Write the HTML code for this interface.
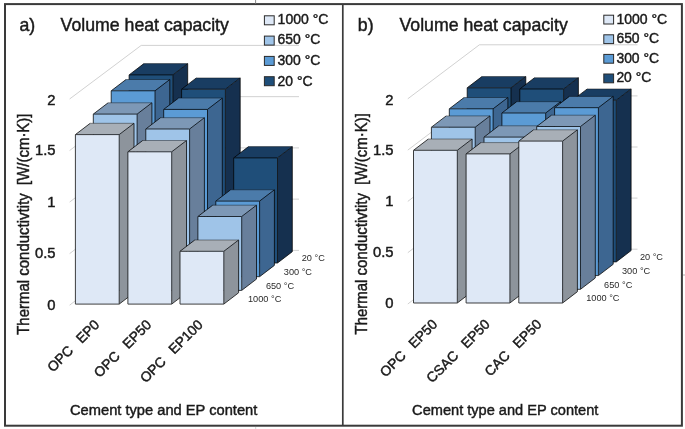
<!DOCTYPE html>
<html><head><meta charset="utf-8"><style>
html,body{margin:0;padding:0;background:#fff;}
svg{display:block;filter:blur(0.45px);}
text{font-family:"Liberation Sans",sans-serif;}
</style></head><body>
<svg width="685" height="429" viewBox="0 0 685 429">
<rect x="5" y="4.1" width="676.9" height="421.6" fill="none" stroke="#3a3a3a" stroke-width="2"/>
<line x1="342.8" y1="4" x2="342.8" y2="426" stroke="#3a3a3a" stroke-width="1.7"/>
<line x1="255.6" y1="0" x2="255.6" y2="3.5" stroke="#8a8a8a" stroke-width="1"/>
<line x1="255.7" y1="427" x2="255.7" y2="429" stroke="#d4d4d4" stroke-width="1"/>
<line x1="683" y1="275" x2="685" y2="275" stroke="#b0b0b0" stroke-width="1"/>
<polyline points="69.60,305.20 141.20,250.40 299.00,250.40" fill="none" stroke="#cccccc" stroke-width="0.9"/>
<polyline points="69.60,253.65 141.20,199.15 299.00,199.15" fill="none" stroke="#cccccc" stroke-width="0.9"/>
<polyline points="69.60,202.10 141.20,147.90 299.00,147.90" fill="none" stroke="#cccccc" stroke-width="0.9"/>
<polyline points="69.60,150.55 141.20,96.65 299.00,96.65" fill="none" stroke="#cccccc" stroke-width="0.9"/>
<polyline points="69.60,99.00 141.20,45.40 299.00,45.40" fill="none" stroke="#cccccc" stroke-width="0.9"/>
<polyline points="407.80,304.00 479.40,249.20 637.50,249.20" fill="none" stroke="#cccccc" stroke-width="0.9"/>
<polyline points="407.80,252.70 479.40,198.10 637.50,198.10" fill="none" stroke="#cccccc" stroke-width="0.9"/>
<polyline points="407.80,201.40 479.40,147.00 637.50,147.00" fill="none" stroke="#cccccc" stroke-width="0.9"/>
<polyline points="407.80,150.10 479.40,95.90 637.50,95.90" fill="none" stroke="#cccccc" stroke-width="0.9"/>
<polyline points="407.80,98.80 479.40,44.80 637.50,44.80" fill="none" stroke="#cccccc" stroke-width="0.9"/>
<polygon points="172.90,74.90 187.70,63.60 187.70,251.70 172.90,263.00" fill="#15304f"/>
<polygon points="129.10,74.90 143.90,63.60 187.70,63.60 172.90,74.90" fill="#193d62"/>
<polygon points="129.10,74.90 172.90,74.90 172.90,263.00 129.10,263.00" fill="#1f4e79"/>
<g opacity="0.75" fill="none" stroke="#000" stroke-width="1.0">
<polyline points="187.70,63.60 187.70,251.70 172.90,263.00 129.10,263.00 129.10,74.90 143.90,63.60" stroke-linejoin="round"/>
<polyline points="129.10,74.90 172.90,74.90 187.70,63.60"/>
<line x1="172.90" y1="74.90" x2="172.90" y2="263.00"/>
</g>
<line x1="143.90" y1="63.60" x2="187.70" y2="63.60" stroke="#000" stroke-opacity="0.4" stroke-width="1.0"/>
<polygon points="225.40,89.20 240.20,77.90 240.20,251.70 225.40,263.00" fill="#15304f"/>
<polygon points="181.60,89.20 196.40,77.90 240.20,77.90 225.40,89.20" fill="#193d62"/>
<polygon points="181.60,89.20 225.40,89.20 225.40,263.00 181.60,263.00" fill="#1f4e79"/>
<g opacity="0.75" fill="none" stroke="#000" stroke-width="1.0">
<polyline points="240.20,77.90 240.20,251.70 225.40,263.00 181.60,263.00 181.60,89.20 196.40,77.90" stroke-linejoin="round"/>
<polyline points="181.60,89.20 225.40,89.20 240.20,77.90"/>
<line x1="225.40" y1="89.20" x2="225.40" y2="263.00"/>
</g>
<line x1="196.40" y1="77.90" x2="240.20" y2="77.90" stroke="#000" stroke-opacity="0.4" stroke-width="1.0"/>
<polygon points="277.50,157.90 292.30,146.60 292.30,251.70 277.50,263.00" fill="#15304f"/>
<polygon points="233.70,157.90 248.50,146.60 292.30,146.60 277.50,157.90" fill="#193d62"/>
<polygon points="233.70,157.90 277.50,157.90 277.50,263.00 233.70,263.00" fill="#1f4e79"/>
<g opacity="0.75" fill="none" stroke="#000" stroke-width="1.0">
<polyline points="292.30,146.60 292.30,251.70 277.50,263.00 233.70,263.00 233.70,157.90 248.50,146.60" stroke-linejoin="round"/>
<polyline points="233.70,157.90 277.50,157.90 292.30,146.60"/>
<line x1="277.50" y1="157.90" x2="277.50" y2="263.00"/>
</g>
<line x1="248.50" y1="146.60" x2="292.30" y2="146.60" stroke="#000" stroke-opacity="0.4" stroke-width="1.0"/>
<polygon points="155.00,90.80 169.80,79.50 169.80,265.40 155.00,276.70" fill="#3d6691"/>
<polygon points="111.20,90.80 126.00,79.50 169.80,79.50 155.00,90.80" fill="#4b7baa"/>
<polygon points="111.20,90.80 155.00,90.80 155.00,276.70 111.20,276.70" fill="#5b9bd5"/>
<g opacity="0.75" fill="none" stroke="#000" stroke-width="1.0">
<polyline points="169.80,79.50 169.80,265.40 155.00,276.70 111.20,276.70 111.20,90.80 126.00,79.50" stroke-linejoin="round"/>
<polyline points="111.20,90.80 155.00,90.80 169.80,79.50"/>
<line x1="155.00" y1="90.80" x2="155.00" y2="276.70"/>
</g>
<line x1="126.00" y1="79.50" x2="169.80" y2="79.50" stroke="#000" stroke-opacity="0.4" stroke-width="1.0"/>
<polygon points="207.50,109.40 222.30,98.10 222.30,265.40 207.50,276.70" fill="#3d6691"/>
<polygon points="163.70,109.40 178.50,98.10 222.30,98.10 207.50,109.40" fill="#4b7baa"/>
<polygon points="163.70,109.40 207.50,109.40 207.50,276.70 163.70,276.70" fill="#5b9bd5"/>
<g opacity="0.75" fill="none" stroke="#000" stroke-width="1.0">
<polyline points="222.30,98.10 222.30,265.40 207.50,276.70 163.70,276.70 163.70,109.40 178.50,98.10" stroke-linejoin="round"/>
<polyline points="163.70,109.40 207.50,109.40 222.30,98.10"/>
<line x1="207.50" y1="109.40" x2="207.50" y2="276.70"/>
</g>
<line x1="178.50" y1="98.10" x2="222.30" y2="98.10" stroke="#000" stroke-opacity="0.4" stroke-width="1.0"/>
<polygon points="259.60,201.10 274.40,189.80 274.40,265.40 259.60,276.70" fill="#3d6691"/>
<polygon points="215.80,201.10 230.60,189.80 274.40,189.80 259.60,201.10" fill="#4b7baa"/>
<polygon points="215.80,201.10 259.60,201.10 259.60,276.70 215.80,276.70" fill="#5b9bd5"/>
<g opacity="0.75" fill="none" stroke="#000" stroke-width="1.0">
<polyline points="274.40,189.80 274.40,265.40 259.60,276.70 215.80,276.70 215.80,201.10 230.60,189.80" stroke-linejoin="round"/>
<polyline points="215.80,201.10 259.60,201.10 274.40,189.80"/>
<line x1="259.60" y1="201.10" x2="259.60" y2="276.70"/>
</g>
<line x1="230.60" y1="189.80" x2="274.40" y2="189.80" stroke="#000" stroke-opacity="0.4" stroke-width="1.0"/>
<polygon points="137.10,114.10 151.90,102.80 151.90,279.10 137.10,290.40" fill="#687f9b"/>
<polygon points="93.30,114.10 108.10,102.80 151.90,102.80 137.10,114.10" fill="#7d98b6"/>
<polygon points="93.30,114.10 137.10,114.10 137.10,290.40 93.30,290.40" fill="#9fc4e8"/>
<g opacity="0.75" fill="none" stroke="#000" stroke-width="1.0">
<polyline points="151.90,102.80 151.90,279.10 137.10,290.40 93.30,290.40 93.30,114.10 108.10,102.80" stroke-linejoin="round"/>
<polyline points="93.30,114.10 137.10,114.10 151.90,102.80"/>
<line x1="137.10" y1="114.10" x2="137.10" y2="290.40"/>
</g>
<line x1="108.10" y1="102.80" x2="151.90" y2="102.80" stroke="#000" stroke-opacity="0.4" stroke-width="1.0"/>
<polygon points="189.60,129.00 204.40,117.70 204.40,279.10 189.60,290.40" fill="#687f9b"/>
<polygon points="145.80,129.00 160.60,117.70 204.40,117.70 189.60,129.00" fill="#7d98b6"/>
<polygon points="145.80,129.00 189.60,129.00 189.60,290.40 145.80,290.40" fill="#9fc4e8"/>
<g opacity="0.75" fill="none" stroke="#000" stroke-width="1.0">
<polyline points="204.40,117.70 204.40,279.10 189.60,290.40 145.80,290.40 145.80,129.00 160.60,117.70" stroke-linejoin="round"/>
<polyline points="145.80,129.00 189.60,129.00 204.40,117.70"/>
<line x1="189.60" y1="129.00" x2="189.60" y2="290.40"/>
</g>
<line x1="160.60" y1="117.70" x2="204.40" y2="117.70" stroke="#000" stroke-opacity="0.4" stroke-width="1.0"/>
<polygon points="241.70,216.50 256.50,205.20 256.50,279.10 241.70,290.40" fill="#687f9b"/>
<polygon points="197.90,216.50 212.70,205.20 256.50,205.20 241.70,216.50" fill="#7d98b6"/>
<polygon points="197.90,216.50 241.70,216.50 241.70,290.40 197.90,290.40" fill="#9fc4e8"/>
<g opacity="0.75" fill="none" stroke="#000" stroke-width="1.0">
<polyline points="256.50,205.20 256.50,279.10 241.70,290.40 197.90,290.40 197.90,216.50 212.70,205.20" stroke-linejoin="round"/>
<polyline points="197.90,216.50 241.70,216.50 256.50,205.20"/>
<line x1="241.70" y1="216.50" x2="241.70" y2="290.40"/>
</g>
<line x1="212.70" y1="205.20" x2="256.50" y2="205.20" stroke="#000" stroke-opacity="0.4" stroke-width="1.0"/>
<polygon points="119.20,134.60 134.00,123.30 134.00,292.80 119.20,304.10" fill="#8d949c"/>
<polygon points="75.40,134.60 90.20,123.30 134.00,123.30 119.20,134.60" fill="#a8afb7"/>
<polygon points="75.40,134.60 119.20,134.60 119.20,304.10 75.40,304.10" fill="#dee8f6"/>
<g opacity="0.75" fill="none" stroke="#000" stroke-width="1.0">
<polyline points="134.00,123.30 134.00,292.80 119.20,304.10 75.40,304.10 75.40,134.60 90.20,123.30" stroke-linejoin="round"/>
<polyline points="75.40,134.60 119.20,134.60 134.00,123.30"/>
<line x1="119.20" y1="134.60" x2="119.20" y2="304.10"/>
</g>
<line x1="90.20" y1="123.30" x2="134.00" y2="123.30" stroke="#000" stroke-opacity="0.4" stroke-width="1.0"/>
<polygon points="171.70,151.80 186.50,140.50 186.50,292.80 171.70,304.10" fill="#8d949c"/>
<polygon points="127.90,151.80 142.70,140.50 186.50,140.50 171.70,151.80" fill="#a8afb7"/>
<polygon points="127.90,151.80 171.70,151.80 171.70,304.10 127.90,304.10" fill="#dee8f6"/>
<g opacity="0.75" fill="none" stroke="#000" stroke-width="1.0">
<polyline points="186.50,140.50 186.50,292.80 171.70,304.10 127.90,304.10 127.90,151.80 142.70,140.50" stroke-linejoin="round"/>
<polyline points="127.90,151.80 171.70,151.80 186.50,140.50"/>
<line x1="171.70" y1="151.80" x2="171.70" y2="304.10"/>
</g>
<line x1="142.70" y1="140.50" x2="186.50" y2="140.50" stroke="#000" stroke-opacity="0.4" stroke-width="1.0"/>
<polygon points="223.80,251.30 238.60,240.00 238.60,292.80 223.80,304.10" fill="#8d949c"/>
<polygon points="180.00,251.30 194.80,240.00 238.60,240.00 223.80,251.30" fill="#a8afb7"/>
<polygon points="180.00,251.30 223.80,251.30 223.80,304.10 180.00,304.10" fill="#dee8f6"/>
<g opacity="0.75" fill="none" stroke="#000" stroke-width="1.0">
<polyline points="238.60,240.00 238.60,292.80 223.80,304.10 180.00,304.10 180.00,251.30 194.80,240.00" stroke-linejoin="round"/>
<polyline points="180.00,251.30 223.80,251.30 238.60,240.00"/>
<line x1="223.80" y1="251.30" x2="223.80" y2="304.10"/>
</g>
<line x1="194.80" y1="240.00" x2="238.60" y2="240.00" stroke="#000" stroke-opacity="0.4" stroke-width="1.0"/>
<polygon points="511.00,87.80 525.80,76.50 525.80,250.60 511.00,261.90" fill="#15304f"/>
<polygon points="467.20,87.80 482.00,76.50 525.80,76.50 511.00,87.80" fill="#193d62"/>
<polygon points="467.20,87.80 511.00,87.80 511.00,261.90 467.20,261.90" fill="#1f4e79"/>
<g opacity="0.75" fill="none" stroke="#000" stroke-width="1.0">
<polyline points="525.80,76.50 525.80,250.60 511.00,261.90 467.20,261.90 467.20,87.80 482.00,76.50" stroke-linejoin="round"/>
<polyline points="467.20,87.80 511.00,87.80 525.80,76.50"/>
<line x1="511.00" y1="87.80" x2="511.00" y2="261.90"/>
</g>
<line x1="482.00" y1="76.50" x2="525.80" y2="76.50" stroke="#000" stroke-opacity="0.4" stroke-width="1.0"/>
<polygon points="563.60,89.00 578.40,77.70 578.40,250.60 563.60,261.90" fill="#15304f"/>
<polygon points="519.80,89.00 534.60,77.70 578.40,77.70 563.60,89.00" fill="#193d62"/>
<polygon points="519.80,89.00 563.60,89.00 563.60,261.90 519.80,261.90" fill="#1f4e79"/>
<g opacity="0.75" fill="none" stroke="#000" stroke-width="1.0">
<polyline points="578.40,77.70 578.40,250.60 563.60,261.90 519.80,261.90 519.80,89.00 534.60,77.70" stroke-linejoin="round"/>
<polyline points="519.80,89.00 563.60,89.00 578.40,77.70"/>
<line x1="563.60" y1="89.00" x2="563.60" y2="261.90"/>
</g>
<line x1="534.60" y1="77.70" x2="578.40" y2="77.70" stroke="#000" stroke-opacity="0.4" stroke-width="1.0"/>
<polygon points="616.30,100.20 631.10,88.90 631.10,250.60 616.30,261.90" fill="#15304f"/>
<polygon points="572.50,100.20 587.30,88.90 631.10,88.90 616.30,100.20" fill="#193d62"/>
<polygon points="572.50,100.20 616.30,100.20 616.30,261.90 572.50,261.90" fill="#1f4e79"/>
<g opacity="0.75" fill="none" stroke="#000" stroke-width="1.0">
<polyline points="631.10,88.90 631.10,250.60 616.30,261.90 572.50,261.90 572.50,100.20 587.30,88.90" stroke-linejoin="round"/>
<polyline points="572.50,100.20 616.30,100.20 631.10,88.90"/>
<line x1="616.30" y1="100.20" x2="616.30" y2="261.90"/>
</g>
<line x1="587.30" y1="88.90" x2="631.10" y2="88.90" stroke="#000" stroke-opacity="0.4" stroke-width="1.0"/>
<polygon points="493.10,108.80 507.90,97.50 507.90,264.30 493.10,275.60" fill="#3d6691"/>
<polygon points="449.30,108.80 464.10,97.50 507.90,97.50 493.10,108.80" fill="#4b7baa"/>
<polygon points="449.30,108.80 493.10,108.80 493.10,275.60 449.30,275.60" fill="#5b9bd5"/>
<g opacity="0.75" fill="none" stroke="#000" stroke-width="1.0">
<polyline points="507.90,97.50 507.90,264.30 493.10,275.60 449.30,275.60 449.30,108.80 464.10,97.50" stroke-linejoin="round"/>
<polyline points="449.30,108.80 493.10,108.80 507.90,97.50"/>
<line x1="493.10" y1="108.80" x2="493.10" y2="275.60"/>
</g>
<line x1="464.10" y1="97.50" x2="507.90" y2="97.50" stroke="#000" stroke-opacity="0.4" stroke-width="1.0"/>
<polygon points="545.70,113.00 560.50,101.70 560.50,264.30 545.70,275.60" fill="#3d6691"/>
<polygon points="501.90,113.00 516.70,101.70 560.50,101.70 545.70,113.00" fill="#4b7baa"/>
<polygon points="501.90,113.00 545.70,113.00 545.70,275.60 501.90,275.60" fill="#5b9bd5"/>
<g opacity="0.75" fill="none" stroke="#000" stroke-width="1.0">
<polyline points="560.50,101.70 560.50,264.30 545.70,275.60 501.90,275.60 501.90,113.00 516.70,101.70" stroke-linejoin="round"/>
<polyline points="501.90,113.00 545.70,113.00 560.50,101.70"/>
<line x1="545.70" y1="113.00" x2="545.70" y2="275.60"/>
</g>
<line x1="516.70" y1="101.70" x2="560.50" y2="101.70" stroke="#000" stroke-opacity="0.4" stroke-width="1.0"/>
<polygon points="598.40,107.70 613.20,96.40 613.20,264.30 598.40,275.60" fill="#3d6691"/>
<polygon points="554.60,107.70 569.40,96.40 613.20,96.40 598.40,107.70" fill="#4b7baa"/>
<polygon points="554.60,107.70 598.40,107.70 598.40,275.60 554.60,275.60" fill="#5b9bd5"/>
<g opacity="0.75" fill="none" stroke="#000" stroke-width="1.0">
<polyline points="613.20,96.40 613.20,264.30 598.40,275.60 554.60,275.60 554.60,107.70 569.40,96.40" stroke-linejoin="round"/>
<polyline points="554.60,107.70 598.40,107.70 613.20,96.40"/>
<line x1="598.40" y1="107.70" x2="598.40" y2="275.60"/>
</g>
<line x1="569.40" y1="96.40" x2="613.20" y2="96.40" stroke="#000" stroke-opacity="0.4" stroke-width="1.0"/>
<polygon points="475.20,127.20 490.00,115.90 490.00,278.00 475.20,289.30" fill="#687f9b"/>
<polygon points="431.40,127.20 446.20,115.90 490.00,115.90 475.20,127.20" fill="#7d98b6"/>
<polygon points="431.40,127.20 475.20,127.20 475.20,289.30 431.40,289.30" fill="#9fc4e8"/>
<g opacity="0.75" fill="none" stroke="#000" stroke-width="1.0">
<polyline points="490.00,115.90 490.00,278.00 475.20,289.30 431.40,289.30 431.40,127.20 446.20,115.90" stroke-linejoin="round"/>
<polyline points="431.40,127.20 475.20,127.20 490.00,115.90"/>
<line x1="475.20" y1="127.20" x2="475.20" y2="289.30"/>
</g>
<line x1="446.20" y1="115.90" x2="490.00" y2="115.90" stroke="#000" stroke-opacity="0.4" stroke-width="1.0"/>
<polygon points="527.80,137.10 542.60,125.80 542.60,278.00 527.80,289.30" fill="#687f9b"/>
<polygon points="484.00,137.10 498.80,125.80 542.60,125.80 527.80,137.10" fill="#7d98b6"/>
<polygon points="484.00,137.10 527.80,137.10 527.80,289.30 484.00,289.30" fill="#9fc4e8"/>
<g opacity="0.75" fill="none" stroke="#000" stroke-width="1.0">
<polyline points="542.60,125.80 542.60,278.00 527.80,289.30 484.00,289.30 484.00,137.10 498.80,125.80" stroke-linejoin="round"/>
<polyline points="484.00,137.10 527.80,137.10 542.60,125.80"/>
<line x1="527.80" y1="137.10" x2="527.80" y2="289.30"/>
</g>
<line x1="498.80" y1="125.80" x2="542.60" y2="125.80" stroke="#000" stroke-opacity="0.4" stroke-width="1.0"/>
<polygon points="580.50,126.50 595.30,115.20 595.30,278.00 580.50,289.30" fill="#687f9b"/>
<polygon points="536.70,126.50 551.50,115.20 595.30,115.20 580.50,126.50" fill="#7d98b6"/>
<polygon points="536.70,126.50 580.50,126.50 580.50,289.30 536.70,289.30" fill="#9fc4e8"/>
<g opacity="0.75" fill="none" stroke="#000" stroke-width="1.0">
<polyline points="595.30,115.20 595.30,278.00 580.50,289.30 536.70,289.30 536.70,126.50 551.50,115.20" stroke-linejoin="round"/>
<polyline points="536.70,126.50 580.50,126.50 595.30,115.20"/>
<line x1="580.50" y1="126.50" x2="580.50" y2="289.30"/>
</g>
<line x1="551.50" y1="115.20" x2="595.30" y2="115.20" stroke="#000" stroke-opacity="0.4" stroke-width="1.0"/>
<polygon points="457.30,150.30 472.10,139.00 472.10,291.70 457.30,303.00" fill="#8d949c"/>
<polygon points="413.50,150.30 428.30,139.00 472.10,139.00 457.30,150.30" fill="#a8afb7"/>
<polygon points="413.50,150.30 457.30,150.30 457.30,303.00 413.50,303.00" fill="#dee8f6"/>
<g opacity="0.75" fill="none" stroke="#000" stroke-width="1.0">
<polyline points="472.10,139.00 472.10,291.70 457.30,303.00 413.50,303.00 413.50,150.30 428.30,139.00" stroke-linejoin="round"/>
<polyline points="413.50,150.30 457.30,150.30 472.10,139.00"/>
<line x1="457.30" y1="150.30" x2="457.30" y2="303.00"/>
</g>
<line x1="428.30" y1="139.00" x2="472.10" y2="139.00" stroke="#000" stroke-opacity="0.4" stroke-width="1.0"/>
<polygon points="509.90,153.90 524.70,142.60 524.70,291.70 509.90,303.00" fill="#8d949c"/>
<polygon points="466.10,153.90 480.90,142.60 524.70,142.60 509.90,153.90" fill="#a8afb7"/>
<polygon points="466.10,153.90 509.90,153.90 509.90,303.00 466.10,303.00" fill="#dee8f6"/>
<g opacity="0.75" fill="none" stroke="#000" stroke-width="1.0">
<polyline points="524.70,142.60 524.70,291.70 509.90,303.00 466.10,303.00 466.10,153.90 480.90,142.60" stroke-linejoin="round"/>
<polyline points="466.10,153.90 509.90,153.90 524.70,142.60"/>
<line x1="509.90" y1="153.90" x2="509.90" y2="303.00"/>
</g>
<line x1="480.90" y1="142.60" x2="524.70" y2="142.60" stroke="#000" stroke-opacity="0.4" stroke-width="1.0"/>
<polygon points="562.60,141.10 577.40,129.80 577.40,291.70 562.60,303.00" fill="#8d949c"/>
<polygon points="518.80,141.10 533.60,129.80 577.40,129.80 562.60,141.10" fill="#a8afb7"/>
<polygon points="518.80,141.10 562.60,141.10 562.60,303.00 518.80,303.00" fill="#dee8f6"/>
<g opacity="0.75" fill="none" stroke="#000" stroke-width="1.0">
<polyline points="577.40,129.80 577.40,291.70 562.60,303.00 518.80,303.00 518.80,141.10 533.60,129.80" stroke-linejoin="round"/>
<polyline points="518.80,141.10 562.60,141.10 577.40,129.80"/>
<line x1="562.60" y1="141.10" x2="562.60" y2="303.00"/>
</g>
<line x1="533.60" y1="129.80" x2="577.40" y2="129.80" stroke="#000" stroke-opacity="0.4" stroke-width="1.0"/>
<g fill="#1a1a1a" stroke="#1a1a1a" stroke-width="0.45">
<text x="19.50" y="30.80" font-size="17.70" text-anchor="start">a)</text>
<text x="60.60" y="31.20" font-size="18.20" text-anchor="start" textLength="168.3" lengthAdjust="spacingAndGlyphs">Volume heat capacity</text>
<text x="55.50" y="105.20" font-size="14.80" text-anchor="end">2</text>
<text x="55.50" y="155.00" font-size="14.80" text-anchor="end">1.5</text>
<text x="55.50" y="206.90" font-size="14.80" text-anchor="end">1</text>
<text x="55.50" y="258.10" font-size="14.80" text-anchor="end">0.5</text>
<text x="55.50" y="309.60" font-size="14.80" text-anchor="end">0</text>
<text transform="translate(28.80,334.80) rotate(-90)" font-size="16.2" textLength="221.3" lengthAdjust="spacingAndGlyphs">Thermal conductivtity&#160; [W/(cm·K)]</text>
<text x="70.00" y="415.30" font-size="15.20" text-anchor="start" textLength="187.3" lengthAdjust="spacingAndGlyphs">Cement type and EP content</text>
<text x="248.00" y="302.40" font-size="9.20" text-anchor="start" stroke="none" fill="#2a2a2a">1000 °C</text>
<text x="265.90" y="288.70" font-size="9.20" text-anchor="start" stroke="none" fill="#2a2a2a">650 °C</text>
<text x="283.80" y="275.00" font-size="9.20" text-anchor="start" stroke="none" fill="#2a2a2a">300 °C</text>
<text x="301.70" y="261.30" font-size="9.20" text-anchor="start" stroke="none" fill="#2a2a2a">20 °C</text>
<rect x="264.40" y="15.80" width="9.8" height="9.00" fill="#dee8f6" stroke="#2a2a2a" stroke-width="1"/>
<text x="277.60" y="23.80" font-size="14.50" text-anchor="start" textLength="50.8" lengthAdjust="spacingAndGlyphs">1000 °C</text>
<rect x="264.40" y="36.10" width="9.8" height="9.00" fill="#9fc4e8" stroke="#2a2a2a" stroke-width="1"/>
<text x="277.60" y="44.40" font-size="14.50" text-anchor="start" textLength="42.7" lengthAdjust="spacingAndGlyphs">650 °C</text>
<rect x="264.40" y="56.40" width="9.8" height="9.00" fill="#5b9bd5" stroke="#2a2a2a" stroke-width="1"/>
<text x="277.60" y="65.00" font-size="14.50" text-anchor="start" textLength="42.7" lengthAdjust="spacingAndGlyphs">300 °C</text>
<rect x="264.40" y="76.70" width="9.8" height="9.00" fill="#1f4e79" stroke="#2a2a2a" stroke-width="1"/>
<text x="277.60" y="85.60" font-size="14.50" text-anchor="start" textLength="34.9" lengthAdjust="spacingAndGlyphs">20 °C</text>
<text transform="translate(100.15,325.55) rotate(-45)" font-size="13.8" text-anchor="end">OPC<tspan dx="10.7">EP0</tspan></text>
<text transform="translate(152.15,325.55) rotate(-45)" font-size="13.8" text-anchor="end">OPC<tspan dx="10.7">EP50</tspan></text>
<text transform="translate(203.65,325.55) rotate(-45)" font-size="13.8" text-anchor="end">OPC<tspan dx="10.7">EP100</tspan></text>
<text x="357.80" y="31.00" font-size="17.70" text-anchor="start">b)</text>
<text x="399.50" y="31.40" font-size="18.20" text-anchor="start" textLength="168.3" lengthAdjust="spacingAndGlyphs">Volume heat capacity</text>
<text x="393.50" y="105.20" font-size="14.80" text-anchor="end">2</text>
<text x="393.50" y="155.00" font-size="14.80" text-anchor="end">1.5</text>
<text x="393.50" y="205.70" font-size="14.80" text-anchor="end">1</text>
<text x="393.50" y="256.70" font-size="14.80" text-anchor="end">0.5</text>
<text x="393.50" y="308.30" font-size="14.80" text-anchor="end">0</text>
<text transform="translate(366.60,334.50) rotate(-90)" font-size="16.2" textLength="221.3" lengthAdjust="spacingAndGlyphs">Thermal conductivtity&#160; [W/(cm·K)]</text>
<text x="412.10" y="415.30" font-size="15.20" text-anchor="start" textLength="186.3" lengthAdjust="spacingAndGlyphs">Cement type and EP content</text>
<text x="586.20" y="301.20" font-size="9.20" text-anchor="start" stroke="none" fill="#2a2a2a">1000 °C</text>
<text x="604.10" y="287.50" font-size="9.20" text-anchor="start" stroke="none" fill="#2a2a2a">650 °C</text>
<text x="622.00" y="273.80" font-size="9.20" text-anchor="start" stroke="none" fill="#2a2a2a">300 °C</text>
<text x="639.90" y="260.10" font-size="9.20" text-anchor="start" stroke="none" fill="#2a2a2a">20 °C</text>
<rect x="603.80" y="15.20" width="9.8" height="8.80" fill="#dee8f6" stroke="#2a2a2a" stroke-width="1"/>
<text x="616.40" y="23.60" font-size="14.50" text-anchor="start" textLength="50.8" lengthAdjust="spacingAndGlyphs">1000 °C</text>
<rect x="603.80" y="34.80" width="9.8" height="8.80" fill="#9fc4e8" stroke="#2a2a2a" stroke-width="1"/>
<text x="616.40" y="43.20" font-size="14.50" text-anchor="start" textLength="42.7" lengthAdjust="spacingAndGlyphs">650 °C</text>
<rect x="603.80" y="54.40" width="9.8" height="8.80" fill="#5b9bd5" stroke="#2a2a2a" stroke-width="1"/>
<text x="616.40" y="62.80" font-size="14.50" text-anchor="start" textLength="42.7" lengthAdjust="spacingAndGlyphs">300 °C</text>
<rect x="603.80" y="74.00" width="9.8" height="8.80" fill="#1f4e79" stroke="#2a2a2a" stroke-width="1"/>
<text x="616.40" y="82.40" font-size="14.50" text-anchor="start" textLength="34.9" lengthAdjust="spacingAndGlyphs">20 °C</text>
<text transform="translate(438.15,325.05) rotate(-45)" font-size="13.8" text-anchor="end">OPC<tspan dx="10.7">EP50</tspan></text>
<text transform="translate(490.65,325.05) rotate(-45)" font-size="13.8" text-anchor="end">CSAC<tspan dx="10.7">EP50</tspan></text>
<text transform="translate(542.35,325.05) rotate(-45)" font-size="13.8" text-anchor="end">CAC<tspan dx="10.7">EP50</tspan></text>
</g>
</svg></body></html>
